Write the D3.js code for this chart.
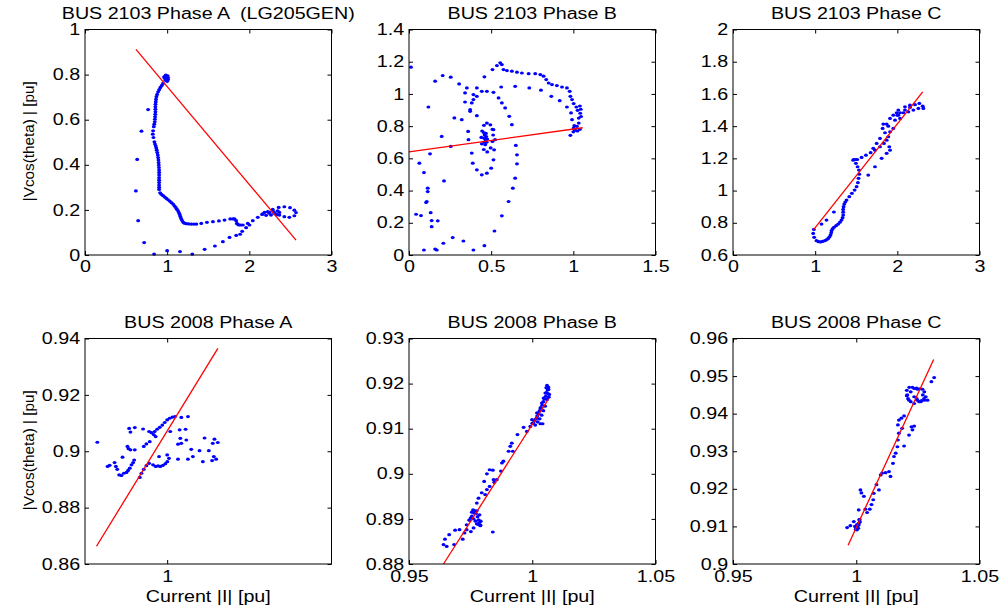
<!DOCTYPE html>
<html>
<head>
<meta charset="utf-8">
<script src="https://cdn.jsdelivr.net/npm/d3@7"></script>
<style>
  html, body { margin: 0; padding: 0; background: #fff; }
  svg { display: block; }
</style>
</head>
<body>
<div id="chart"></div>
<script>
// ---------------- DATA ----------------
const titles = ["BUS 2103 Phase A  (LG205GEN)", "BUS 2103 Phase B", "BUS 2103 Phase C",
                "BUS 2008 Phase A", "BUS 2008 Phase B", "BUS 2008 Phase C"];
const xLabel = "Current |I| [pu]";
const yLabel = "|Vcos(theta) | [pu]";

const xDomains = [[0, 3], [0, 1.5], [0, 3], [0.9, 1.2], [0.95, 1.05], [0.95, 1.05]];
const yDomains = [[0, 1], [0, 1.4], [0.6, 2], [0.86, 0.94], [0.88, 0.93], [0.9, 0.96]];
const xTicks = [[0, 1, 2, 3], [0, 0.5, 1, 1.5], [0, 1, 2, 3], [1], [0.95, 1, 1.05], [0.95, 1, 1.05]];
const yTicks = [[0, 0.2, 0.4, 0.6, 0.8, 1], [0, 0.2, 0.4, 0.6, 0.8, 1, 1.2, 1.4],
                [0.6, 0.8, 1, 1.2, 1.4, 1.6, 1.8, 2], [0.86, 0.88, 0.9, 0.92, 0.94],
                [0.88, 0.89, 0.9, 0.91, 0.92, 0.93], [0.9, 0.91, 0.92, 0.93, 0.94, 0.95, 0.96]];

const bus2103A = [[1.011,0.787],[0.983,0.798],[0.962,0.790],[0.979,0.775],[1.011,0.778],[0.991,0.793],[0.970,0.784],[1.000,0.770],[1.005,0.795],[0.975,0.792],
[0.950,0.761],[0.935,0.752],[0.918,0.743],[0.903,0.733],[0.890,0.724],[0.878,0.712],[0.869,0.702],[0.864,0.690],[0.861,0.679],[0.858,0.668],[0.857,0.657],[0.857,0.646],[0.857,0.635],[0.855,0.624],[0.853,0.613],[0.851,0.602],[0.849,0.591],[0.843,0.580],[0.837,0.569],[0.829,0.551],[0.825,0.536],[0.833,0.521],[0.845,0.502],[0.852,0.492],[0.861,0.483],[0.867,0.474],[0.873,0.465],[0.880,0.454],[0.886,0.443],[0.890,0.432],[0.894,0.421],[0.896,0.410],[0.898,0.399],[0.900,0.388],[0.902,0.377],[0.902,0.366],[0.902,0.355],[0.902,0.343],[0.902,0.332],[0.902,0.321],[0.902,0.310],[0.902,0.300],[0.902,0.291],[0.914,0.276],[0.930,0.269],[0.950,0.263],[0.971,0.257],[0.991,0.251],[1.011,0.245],[1.031,0.239],[1.052,0.232],[1.072,0.226],[1.088,0.218],[1.104,0.211],[1.118,0.203],[1.132,0.196],[1.142,0.188],[1.152,0.180],[1.160,0.171],[1.169,0.162],[1.180,0.154],[1.193,0.146],[1.210,0.141],[1.233,0.139],[1.262,0.138],[1.294,0.137],[1.325,0.137],[1.355,0.137],[1.415,0.140],[1.484,0.145],[1.557,0.148],[1.630,0.151],[1.698,0.155],[1.767,0.160],[1.800,0.160],[1.820,0.160],[1.840,0.152],[1.848,0.140],[1.860,0.136],[1.872,0.133],[1.895,0.133],[1.921,0.133],[1.981,0.140],[2.042,0.152],[2.103,0.167],[2.163,0.182],[2.224,0.192],[2.285,0.202],[2.357,0.211],[2.426,0.214],[2.495,0.210],[2.548,0.199],[2.568,0.188],[2.548,0.174],[2.487,0.167],[2.426,0.170],[2.366,0.177],[2.305,0.185],[2.244,0.189],[2.184,0.189],[2.155,0.180],[2.204,0.176],[2.264,0.177],[2.325,0.182],[2.366,0.189],[2.345,0.196],[2.285,0.195],[2.244,0.185],[2.300,0.190],[2.330,0.178],
[2.002,0.133],[1.961,0.121],[1.913,0.105],[1.888,0.092],[1.840,0.087],[1.759,0.078],[1.678,0.059],[1.581,0.040],[1.456,0.025],[1.306,0.004],[1.156,0.015],[0.999,0.019],[0.841,0.004],[0.720,0.055],[0.647,0.152],[0.619,0.284],[0.635,0.424],[0.687,0.549],[0.768,0.645]];

const bus2103B = [[0.012,1.166],[0.159,1.079],[0.205,1.114],[0.254,1.104],[0.305,1.062],[0.352,1.037],[0.413,1.037],[0.341,1.006],[0.392,0.996],[0.341,0.950],[0.382,0.944],[0.372,0.902],[0.118,0.919],[0.276,0.851],[0.321,0.840],[0.413,0.865],[0.199,0.736],[0.254,0.674],[0.360,0.767],[0.128,0.628],[0.063,0.570],[0.091,0.512],[0.213,0.460],[0.114,0.415],[0.114,0.394],[0.108,0.332],[0.104,0.326],[0.132,0.263],[0.138,0.214],[0.138,0.176],[0.175,0.212],[0.043,0.253],[0.073,0.245],[0.091,0.031],[0.159,0.037],[0.169,0.031],[0.209,0.073],[0.266,0.108],[0.331,0.087],[0.392,0.031],[0.459,0.058],[0.520,0.149],[0.565,0.243],[0.606,0.332],[0.632,0.415],[0.646,0.477],[0.657,0.566],[0.657,0.622],[0.650,0.680],[0.626,0.809],[0.610,0.861],[0.585,0.913],[0.565,0.944],[0.545,0.975],[0.514,1.010],[0.474,1.016],[0.443,1.016],[0.413,0.985],[0.392,0.965],[0.372,0.892],[0.362,0.716],[0.382,0.633],[0.388,0.570],[0.413,0.529],[0.443,0.498],[0.474,0.508],[0.500,0.539],[0.514,0.591],[0.518,0.653],[0.524,0.716],[0.514,0.778],
[0.474,0.819],[0.495,0.808],[0.508,0.780],[0.512,0.745],[0.508,0.705],[0.497,0.665],[0.476,0.640],[0.455,0.655],[0.443,0.690],[0.440,0.730],[0.445,0.770],[0.456,0.805],
[0.460,0.745],[0.470,0.735],[0.465,0.715],[0.458,0.725],[0.472,0.700],[0.460,0.700],[0.468,0.755],[0.476,0.720],[0.464,0.685],[0.455,0.760],
[0.459,1.106],[0.508,1.151],[0.535,1.176],[0.555,1.193],[0.565,1.182],[0.575,1.151],[0.596,1.145],[0.626,1.141],[0.657,1.135],[0.687,1.130],[0.728,1.126],[0.768,1.126],[0.799,1.120],[0.819,1.110],[0.835,1.089],[0.850,1.068],[0.870,1.058],[0.900,1.052],[0.931,1.043],[0.961,1.037],[0.978,1.016],[0.982,0.985],[0.992,0.965],[1.002,0.940],[1.018,0.919],[1.026,0.898],[1.040,0.925],[1.045,0.905],[1.042,0.880],[1.047,0.860],[1.033,0.850],[1.033,0.819],[1.022,0.799],[1.002,0.788],[1.010,0.775],[1.025,0.770],[1.040,0.780],[1.000,0.765],[0.982,0.743],
[0.561,1.043],[0.646,1.047],[0.732,1.037],[0.803,1.023],[0.866,0.985],[0.917,0.958],[0.961,0.919],[0.986,0.882],[0.992,0.840],[1.006,0.803]];

const bus2103C = [[0.984,0.759],[0.976,0.734],[0.988,0.710],[1.016,0.689],[1.040,0.683],[1.065,0.681],[1.090,0.684],[1.118,0.689],[1.140,0.695],[1.159,0.703],[1.175,0.713],[1.187,0.724],[1.195,0.738],[1.199,0.751],[1.212,0.762],[1.228,0.772],[1.255,0.782],[1.280,0.792],[1.302,0.804],[1.321,0.817],[1.334,0.832],[1.341,0.848],[1.341,0.866],[1.341,0.883],[1.346,0.900],[1.354,0.916],[1.366,0.929],[1.382,0.941],[1.415,0.962],[1.447,0.983],[1.480,1.003],[1.504,1.024],[1.520,1.049],[1.528,1.076],[1.537,1.102],[1.533,1.127],[1.516,1.148],[1.496,1.169],[1.463,1.189],[1.470,1.193],[1.490,1.193],[1.512,1.193],[1.565,1.206],[1.618,1.220],[1.675,1.235],[1.728,1.251],[1.789,1.272],[1.837,1.293],[1.870,1.313],[1.890,1.334],[1.850,1.359],[1.821,1.386],[1.829,1.413],[1.870,1.413],[1.902,1.272],[1.911,1.251],[1.870,1.231],[1.809,1.200],[1.728,1.148],[1.646,1.096],[1.911,1.365],[1.951,1.386],[1.972,1.437],[2.000,1.468],[2.033,1.483],[2.093,1.500],[2.154,1.516],[2.215,1.533],[2.268,1.541],[2.309,1.524],[2.317,1.510],[2.256,1.510],[2.195,1.500],[2.134,1.489],[2.073,1.483],[2.012,1.468],[1.992,1.483],[2.033,1.448],[1.951,1.468],[2.012,1.500],[2.093,1.520],[2.154,1.530],[1.911,1.448],[1.890,1.400],[1.789,1.324],[1.748,1.293],[1.707,1.262],[1.077,0.792],[1.138,0.817],[1.228,0.867]];

const bus2008A = [[0.915,0.9032],[0.9275,0.8946],[0.930,0.8950],[0.936,0.8960],[0.9376,0.8946],[0.9392,0.8936],[0.9416,0.8916],[0.9444,0.8914],[0.9473,0.8922],[0.9505,0.8925],[0.9525,0.8932],[0.9545,0.8940],[0.9566,0.8952],[0.9586,0.8960],[0.9598,0.8969],[0.9457,0.8979],[0.9517,0.9017],[0.9529,0.9009],[0.9553,0.9005],[0.9537,0.9081],[0.9553,0.9068],[0.9606,0.9084],[0.9707,0.9079],[0.9606,0.9005],[0.9667,0.8907],[0.9687,0.8922],[0.9715,0.8936],[0.9747,0.8949],[0.9780,0.8957],[0.9715,0.9017],[0.9747,0.9026],[0.9788,0.9034],[0.9780,0.9070],[0.9808,0.9066],[0.9836,0.9059],[0.9860,0.9052],[0.9848,0.9070],[0.9877,0.9078],[0.9909,0.9085],[0.9941,0.9093],[0.9970,0.9102],[1.0000,0.9111],[1.0030,0.9117],[1.0063,0.9121],[1.0095,0.9123],[0.9828,0.8952],[0.9860,0.8946],[0.9889,0.8948],[0.9917,0.8946],[0.9949,0.8950],[0.9978,0.8956],[1.0002,0.8963],[1.0022,0.8975],[1.0000,0.8987],[0.9901,0.8981],[1.0038,0.9070],[1.0152,0.9076],[1.0224,0.9078],[1.0172,0.9120],[1.0253,0.9123],[1.0132,0.9025],[1.0172,0.9028],[1.0160,0.9046],[1.0233,0.9040],[1.0293,0.9007],[1.0313,0.8981],[1.0253,0.8972],[1.0132,0.8972],[1.0394,0.9002],[1.0455,0.9047],[1.0507,0.9002],[1.0434,0.8963],[1.0555,0.9028],[1.0576,0.9043],[1.0596,0.8972],[1.0568,0.8981],[1.0616,0.9031],[1.0547,0.8967]];

const bus2008B = [[0.9640,0.8843],[0.9653,0.8839],[0.9646,0.8855],[0.9663,0.8865],[0.9683,0.8843],[0.9687,0.8875],[0.9705,0.8876],[0.9718,0.8855],[0.9725,0.8869],[0.9734,0.8876],[0.9734,0.8887],[0.9745,0.8898],[0.9755,0.8906],[0.9764,0.8913],[0.9775,0.8918],[0.9786,0.8909],[0.9791,0.8895],[0.9789,0.8885],[0.9775,0.8889],[0.9762,0.8880],[0.9751,0.8872],[0.9840,0.8871],[0.9775,0.8935],[0.9782,0.8946],[0.9795,0.8958],[0.9809,0.8954],[0.9816,0.8965],[0.9827,0.8972],[0.9805,0.8983],[0.9816,0.9000],[0.9827,0.9009],[0.9840,0.9008],[0.9843,0.8987],[0.9846,0.8981],[0.9856,0.8987],[0.9873,0.9006],[0.9877,0.9024],[0.9883,0.9028],[0.9904,0.9050],[0.9911,0.9061],[0.9917,0.9068],[0.9921,0.9050],[0.9940,0.9087],[0.9965,0.9103],[0.9978,0.9094],[0.9992,0.9105],[0.9999,0.9120],[1.0005,0.9113],[1.0019,0.9124],[1.0026,0.9135],[1.0033,0.9146],[1.0039,0.9157],[1.0046,0.9168],[1.0053,0.9179],[1.0057,0.9191],[1.0060,0.9196],[1.0066,0.9187],[1.0069,0.9176],[1.0060,0.9165],[1.0033,0.9111],[1.0042,0.9111],[1.0019,0.9135],
[1.0000,0.9112],[1.0008,0.9118],[1.0015,0.9122],[1.0020,0.9128],[1.0025,0.9133],[1.0030,0.9140],[1.0035,0.9146],[1.0040,0.9152],[1.0045,0.9160],[1.0050,0.9166],[1.0055,0.9172],[1.0058,0.9180],[1.0062,0.9186],[1.0065,0.9192],[1.0063,0.9178],[1.0067,0.9170],[1.0052,0.9150],[1.0045,0.9140],[1.0038,0.9130],[1.0030,0.9122],[1.0022,0.9115],[1.0012,0.9108],
[0.9755,0.8915],[0.9760,0.8920],[0.9768,0.8918],[0.9772,0.8912],[0.9778,0.8905],[0.9782,0.8898],[0.9786,0.8892],[0.9790,0.8886],[0.9780,0.8888],[0.9770,0.8895],[0.9762,0.8900],[0.9750,0.8902],[0.9745,0.8897]];

const bus2008C = [[0.9963,0.9097],[0.9976,0.9102],[0.9990,0.9113],[0.9997,0.9100],[1.0003,0.9091],[1.0010,0.9104],[1.0014,0.9118],[1.0010,0.9144],[1.0017,0.9197],[1.0021,0.9189],[1.0031,0.9180],[1.0037,0.9146],[1.0044,0.9137],[1.0055,0.9146],[1.0062,0.9158],[1.0069,0.9171],[1.0071,0.9188],[1.0082,0.9211],[1.0092,0.9197],[1.0099,0.9237],[1.0105,0.9242],[1.0119,0.9243],[1.0133,0.9246],[1.0139,0.9233],[1.0149,0.9268],[1.0153,0.9286],[1.0160,0.9295],[1.0167,0.9312],[1.0169,0.9330],[1.0194,0.9314],[1.0173,0.9348],[1.0169,0.9370],[1.0173,0.9383],[1.0183,0.9388],[1.0194,0.9394],[1.0186,0.9361],[1.0214,0.9343],[1.0224,0.9365],[1.0235,0.9367],[1.0228,0.9357],[1.0207,0.9450],[1.0214,0.9436],[1.0221,0.9458],[1.0235,0.9467],[1.0248,0.9465],[1.0269,0.9465],[1.0276,0.9458],[1.0282,0.9445],[1.0276,0.9436],[1.0262,0.9432],[1.0248,0.9436],[1.0235,0.9427],[1.0221,0.9432],[1.0289,0.9436],[1.0305,0.9485],[1.0316,0.9496],
[1.0000,0.9095],[1.0005,0.9100],[1.0010,0.9108],[1.0015,0.9112],[1.0003,0.9105],[0.9998,0.9092],[1.0008,0.9095],[1.0012,0.9118],[0.9995,0.9100],
[1.0205,0.9462],[1.0215,0.9470],[1.0228,0.9470],[1.0245,0.9468],[1.0258,0.9466],[1.0270,0.9450],[1.0275,0.9440],[1.0265,0.9435],[1.0255,0.9432],[1.0245,0.9440],[1.0235,0.9445],[1.0210,0.9440],[1.0205,0.9448]];

// least-squares fit lines (end points)
const fit2103A = [[0.62, 0.912], [2.568, 0.066]];
const fit2103B = [[0.0, 0.640], [1.057, 0.790]];
const fit2103C = [[0.976, 0.755], [2.309, 1.613]];
const fit2008A = [[0.914, 0.8663], [1.0617, 0.9365]];
const fit2008B = [[0.964, 0.880], [1.0066, 0.9166]];
const fit2008C = [[0.9967, 0.9050], [1.0314, 0.9544]];

const series = [bus2103A, bus2103B, bus2103C, bus2008A, bus2008B, bus2008C];
const fits = [fit2103A, fit2103B, fit2103C, fit2008A, fit2008B, fit2008C];

// ---------------- LAYOUT ----------------
const W = 1002, H = 613;
const colX = [85, 409, 733];
const rowY = [29.5, 338.5];
const pw = 246.5, ph = 225.5;
const SX = 1.23;         // horizontal stretch of the reference text
const FONT = "'Liberation Sans', Arial, Helvetica, sans-serif";

const svg = d3.select("#chart").append("svg")
  .attr("width", W).attr("height", H)
  .attr("viewBox", `0 0 ${W} ${H}`);
svg.append("rect").attr("width", W).attr("height", H).attr("fill", "#fff");

series.forEach((pts, i) => {
  const col = i % 3, row = Math.floor(i / 3);
  const g = svg.append("g").attr("transform", `translate(${colX[col]},${rowY[row]})`);
  const x = d3.scaleLinear().domain(xDomains[i]).range([0, pw]);
  const y = d3.scaleLinear().domain(yDomains[i]).range([ph, 0]);
  const fmt = d => String(d);

  // data points
  g.append("g").selectAll("ellipse").data(pts).join("ellipse")
    .attr("cx", d => x(d[0])).attr("cy", d => y(d[1]))
    .attr("rx", 1.95).attr("ry", 1.6)
    .attr("fill", "#0000ff");

  // fit line
  g.append("path").datum(fits[i])
    .attr("d", d3.line().x(d => x(d[0])).y(d => y(d[1])))
    .attr("fill", "none").attr("stroke", "#ff0000").attr("stroke-width", 1.3);

  // axes
  const styleAxis = (sel) => {
    sel.attr("font-family", FONT).attr("font-size", 16);
    sel.select(".domain").remove();
    sel.selectAll(".tick line").attr("stroke", "#000").attr("stroke-width", 1);
    sel.selectAll(".tick text").attr("fill", "#000");
  };
  const gb = g.append("g").attr("transform", `translate(0,${ph})`)
    .call(d3.axisBottom(x).tickValues(xTicks[i]).tickSize(-4).tickPadding(row === 1 ? 7 : 6).tickFormat(fmt))
    .call(styleAxis);
  gb.selectAll(".tick text").attr("transform", `scale(${SX},1)`);

  const gl = g.append("g")
    .call(d3.axisLeft(y).tickValues(yTicks[i]).tickSize(-4).tickPadding(4).tickFormat(fmt))
    .call(styleAxis);
  gl.selectAll(".tick text").attr("transform", `scale(${SX},1)`);

  g.append("g")
    .call(d3.axisTop(x).tickValues(xTicks[i]).tickSize(-4).tickFormat(() => ""))
    .call(styleAxis);
  g.append("g").attr("transform", `translate(${pw},0)`)
    .call(d3.axisRight(y).tickValues(yTicks[i]).tickSize(-4).tickFormat(() => ""))
    .call(styleAxis);

  // box
  g.append("rect").attr("width", pw).attr("height", ph)
    .attr("fill", "none").attr("stroke", "#000").attr("stroke-width", 1);

  // title
  g.append("text")
    .attr("transform", `translate(${pw / 2},-11) scale(${SX},1)`)
    .attr("text-anchor", "middle")
    .attr("xml:space", "preserve").style("white-space", "pre")
    .attr("font-family", FONT).attr("font-size", 16).attr("fill", "#000")
    .text(titles[i]);

  // x label (bottom row)
  if (row === 1) {
    g.append("text")
      .attr("transform", `translate(${pw / 2},${ph + 37.5}) scale(${SX},1)`)
      .attr("text-anchor", "middle")
      .attr("font-family", FONT).attr("font-size", 16).attr("fill", "#000")
      .text(xLabel);
  }
  // y label (left column)
  if (col === 0) {
    g.append("text")
      .attr("transform", `translate(${34 - colX[0]},${ph / 2 - 1}) rotate(-90)`)
      .attr("text-anchor", "middle")
      .attr("textLength", 120).attr("lengthAdjust", "spacingAndGlyphs")
      .attr("font-family", FONT).attr("font-size", 14.5).attr("fill", "#000")
      .text(yLabel);
  }
});
</script>
</body>
</html>
